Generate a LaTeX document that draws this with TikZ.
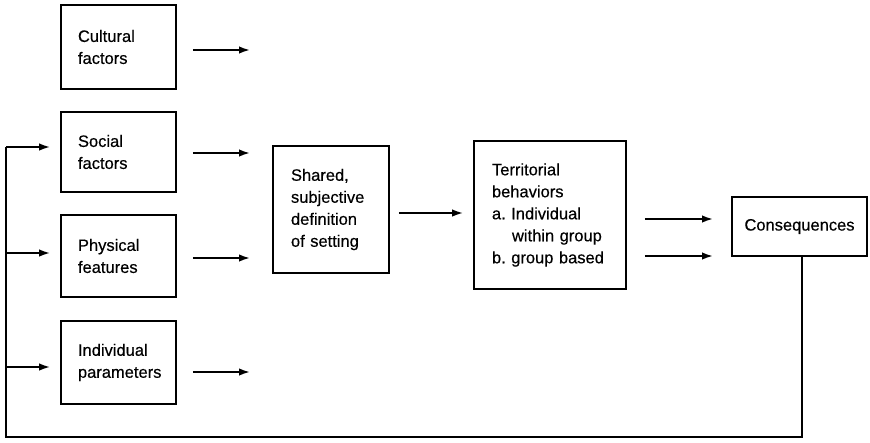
\documentclass[tikz,border=0pt]{standalone}
\usepackage{fontspec}
\setmainfont{Liberation Sans}[FakeBold=0.4]
\usetikzlibrary{arrows.meta}
\begin{document}
\begin{tikzpicture}[x=1pt,y=-1pt,
  box/.style={draw, line width=1.8pt, rectangle, inner ysep=0pt, align=left,
    font=\fontsize{16.5}{22}\selectfont},
  lbox/.style={box, inner xsep=17pt, text width=81pt, minimum height=#1},
  arr/.style={line width=1.8pt, -{Latex[length=11pt,width=7.5pt]}},
  fline/.style={line width=1.8pt}]
\useasboundingbox (0,0) rectangle (870,442);

\node[lbox=84pt] (cult) at (118.5,47) {Cultural\\factors};
\node[lbox=80pt] (soc) at (118.5,152) {Social\\factors};
\node[lbox=82pt] (phys) at (118.5,256) {Physical\\features};
\node[lbox=83pt] (indiv) at (118.5,362.5) {Individual\\parameters};

\node[box, inner xsep=18pt, text width=80pt, minimum height=127pt] (shared) at (331,209.5)
  {Shared,\\subjective\\definition\\of setting};
\node[box, inner xsep=18pt, text width=116pt, minimum height=148pt] (terr) at (550,215)
  {Territorial\\behaviors\\a.~Individual\\\hspace*{20pt}within group\\b.~group based};
\node[box, align=center, minimum width=135pt, minimum height=59pt] (cons) at (799.5,226.5)
  {Consequences};

% arrows from factor boxes towards the shared definition
\coordinate (ce) at (250,50);
\coordinate (se) at (250,153);
\coordinate (pe) at (250,258);
\coordinate (ie) at (250,372);
\draw[arr] (cult.east |- ce) ++(16,0) -- (ce);
\draw[arr] (soc.east |- se) ++(16,0) -- (se);
\draw[arr] (phys.east |- pe) ++(16,0) -- (pe);
\draw[arr] (indiv.east |- ie) ++(16,0) -- (ie);

% shared -> territorial
\draw[arr, shorten <=9pt, shorten >=10pt] (shared.east |- 0,213) -- (terr.west |- 0,213);

% territorial -> consequences
\coordinate (t1) at (713,219);
\coordinate (t2) at (713,256);
\draw[arr] (terr.east |- t1) ++(18,0) -- (t1);
\draw[arr] (terr.east |- t2) ++(18,0) -- (t2);

% feedback loop
\coordinate (fb) at (6,437);
\coordinate (fs) at (6,147);
\coordinate (fp) at (6,253);
\coordinate (fi) at (6,367);
\draw[fline] ([xshift=2.5pt]cons.south) |- (fb) -- (fs);
\draw[arr] (fs) -- ([xshift=-10pt]soc.west |- fs);
\draw[arr] (fp) -- ([xshift=-10pt]phys.west |- fp);
\draw[arr] (fi) -- ([xshift=-10pt]indiv.west |- fi);
\end{tikzpicture}
\end{document}
